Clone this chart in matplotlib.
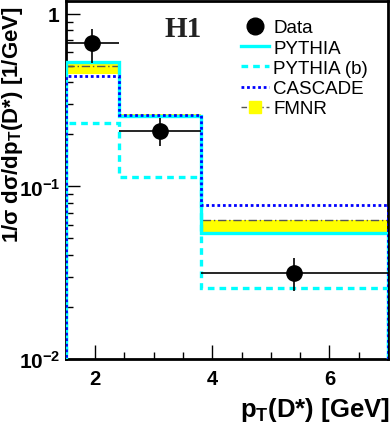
import numpy as np
import matplotlib
matplotlib.use("Agg")
import matplotlib.pyplot as plt
from matplotlib.lines import Line2D

plt.rcParams['font.family'] = ['Liberation Sans', 'DejaVu Sans']
plt.rcParams['mathtext.fontset'] = 'custom'
plt.rcParams['mathtext.rm'] = 'Liberation Sans'
plt.rcParams['mathtext.bf'] = 'Liberation Sans:bold'
plt.rcParams['mathtext.it'] = 'Liberation Sans:italic'

# bins in pT(D*)
edges = [1.5, 2.4, 3.8, 7.0]

# data points
data_x = [1.94, 3.10, 5.40]
data_y = [0.673, 0.209, 0.0317]
data_err_up = [0.143, 0.040, 0.0067]
data_err_dn = [0.154, 0.038, 0.0069]

# models
pythia = [0.524, 0.255, 0.054]
pythia_b = [0.232, 0.114, 0.0257]
cascade = [0.436, 0.258, 0.0777]
fmnr = [0.496, 0.257, 0.0638]
fmnr_lo = [0.450, 0.252, 0.0545]
fmnr_hi = [0.514, 0.262, 0.0640]

fig = plt.figure(figsize=(3.92, 4.35), dpi=100)
ax = fig.add_axes([0.168, 0.172, 0.822, 0.823])
ax.set_yscale('log')

base = 1e-3
dashdot = (0, (6, 2, 1, 2))
ax.stairs(fmnr_hi, edges, baseline=fmnr_lo, fill=True, color='yellow', lw=0, zorder=1)
ax.stairs(fmnr, edges, baseline=None, color='#555555', ls=dashdot, lw=1.0, zorder=2)
ax.stairs(pythia, edges, baseline=base, color='cyan', lw=2.4, zorder=3)
ax.stairs(pythia_b, edges, baseline=base, color='cyan', ls=(0, (2, 1.5)), lw=2.4, zorder=3)
ax.stairs(cascade, edges, baseline=base, color='blue', ls=(0, (1, 1)), lw=2.0, zorder=4)

xerr_lo = [x - edges[i] for i, x in enumerate(data_x)]
xerr_hi = [edges[i + 1] - x for i, x in enumerate(data_x)]
ax.errorbar(data_x, data_y, xerr=[xerr_lo, xerr_hi], yerr=[data_err_dn, data_err_up],
            fmt='o', color='black', ms=11, elinewidth=1.2, capsize=0, zorder=5)

ax.set_xlim(1.5, 7.0)
ax.set_ylim(0.01, 1.18)

ax.set_xticks([2, 4, 6])
ax.set_xticks(np.arange(2.5, 7.0, 0.5), minor=True)
ax.set_xticklabels(['2', '4', '6'], fontweight='bold', fontsize=14.5)
ax.set_yticks([0.01, 0.1, 1])
ax.set_yticklabels([r'$\mathbf{10^{-2}}$', r'$\mathbf{10^{-1}}$', r'$\mathbf{1}$'], fontsize=15)
ax.tick_params(which='both', direction='in', top=False, right=False)
ax.tick_params(which='major', length=10, width=1, pad=7)
ax.tick_params(axis='y', which='major', pad=4)
ax.tick_params(which='minor', length=5, width=1)
for s in ax.spines.values():
    s.set_linewidth(2)

ax.set_xlabel(r'$\mathbf{p_T}$(D*) [GeV]', fontweight='bold', fontsize=18.5, loc='right')
ax.xaxis.set_label_coords(1.007, -0.1)
ax.set_ylabel(r'1/$\mathbf{\sigma}$ d$\mathbf{\sigma}$/d$\mathbf{p_T}$(D*) [1/GeV]', fontweight='bold',
              fontsize=16, loc='top')
ax.yaxis.set_label_coords(-0.127, 0.99)

ax.text(0.305, 0.925, 'H1', transform=ax.transAxes, fontsize=21, fontweight='bold',
        family='Liberation Serif', color='#222222', va='center')

handles = [
    Line2D([], [], ls='none', marker='o', color='black', ms=12),
    Line2D([], [], color='cyan', lw=2.4),
    Line2D([], [], color='cyan', lw=2.4, ls=(0, (2, 1.5))),
    Line2D([], [], color='blue', lw=2.0, ls=(0, (1, 1))),
    Line2D([], [], color='#555555', lw=1.0, ls=(0, (4, 2, 1, 2)), marker='s', ms=9,
           markerfacecolor='yellow', markeredgecolor='yellow'),
]
labels = ['Data', 'PYTHIA', 'PYTHIA (b)', 'CASCADE', 'FMNR']
ax.legend(handles, labels, loc='upper left', bbox_to_anchor=(0.545, 0.95), frameon=False,
          fontsize=13.5, handlelength=1.45, handletextpad=0.25, labelspacing=0.17,
          borderaxespad=0, borderpad=0)

fig.savefig('out.png', dpi=100)
